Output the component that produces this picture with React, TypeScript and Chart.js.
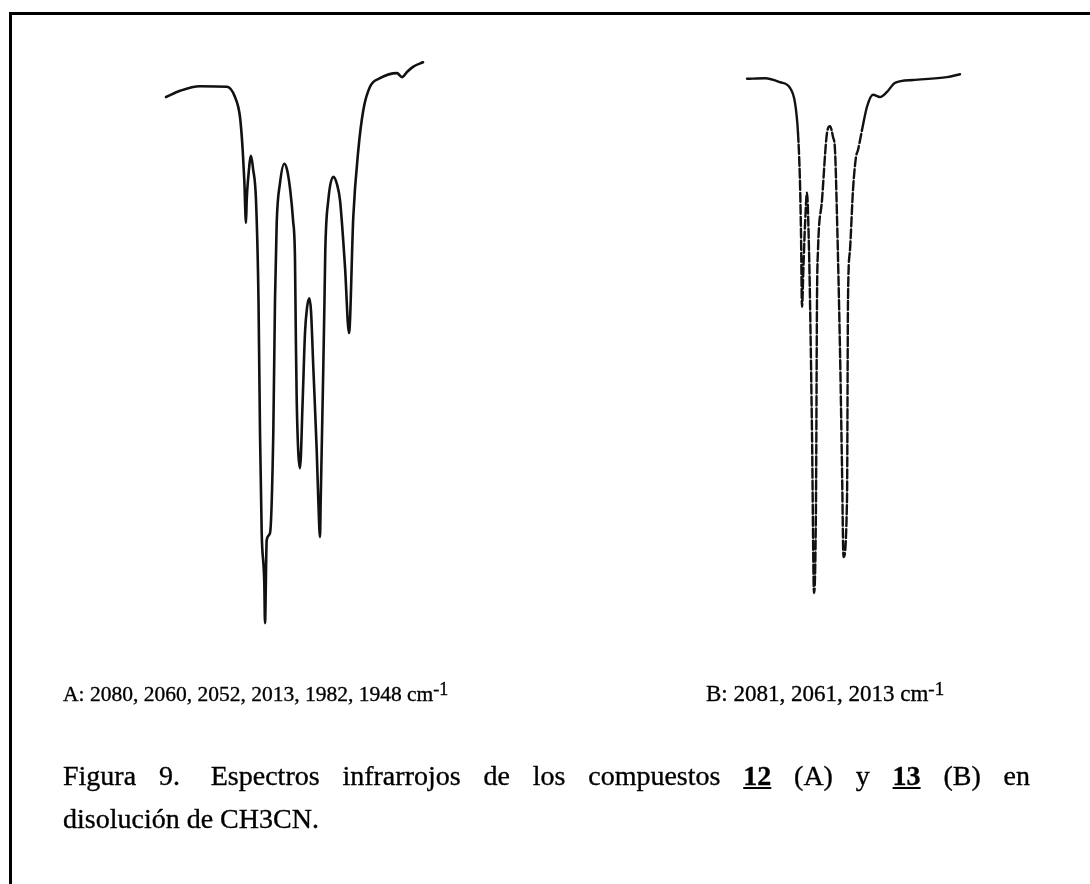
import React, { useEffect, useRef } from "react";
import { Chart, registerables } from "chart.js";

Chart.register(...registerables);

// Spectrum A (compound 12): horizontal position (arbitrary units) and transmittance (%)
const specAPos = [
  166, 180, 200, 227, 235, 240, 242.7, 244.3, 246, 246.7, 248.3, 251, 253, 256,
  258.5, 260, 261.7, 264.3, 265, 266.7, 270, 273.3, 275, 276.7, 280, 284.3, 287,
  290, 293, 295, 295.8, 296.7, 300, 302.7, 305, 307, 309.3, 311, 313.3, 316.7,
  318.3, 320, 320.7, 321.7, 323.3, 324.5, 325.3, 328.3, 333.3, 337, 340, 345, 349,
  353.3, 358.3, 363.3, 370, 380, 397, 402, 407, 413, 423,
];
const specAT = [
  93.5, 94.6, 95.4, 95.3, 93.5, 90.0, 84.2, 78.9, 71.4, 75.4, 79.5, 83.2, 81.0,
  75.4, 57.9, 34.6, 17.0, 8.2, 1.2, 15.8, 17.0, 34.6, 57.9, 71.4, 78.4, 81.8,
  80.8, 77.5, 72.0, 65.0, 52.0, 40.4, 28.4, 40.4, 52.1, 56.5, 58.2, 56.0, 46.1,
  31.6, 22.8, 16.3, 22.8, 31.6, 46.1, 57.9, 66.7, 75.4, 79.5, 78.2, 75.4, 63.7,
  52.1, 72.5, 84.2, 91.2, 95.3, 96.8, 97.7, 97.0, 97.9, 98.8, 99.6,
];

// Spectrum B (compound 13)
const specBPos = [
  747, 765, 780, 790, 795, 798, 800, 801, 802, 803.5, 805, 807, 809, 810, 812,
  814, 816, 817, 818, 822, 827, 830, 833, 835, 837, 840, 842, 843.5, 847, 848,
  850, 853, 856, 858, 862, 867, 873, 880, 887, 895, 913, 947, 960,
];
const specBT = [
  96.7, 96.8, 96.1, 95.1, 92.5, 87.2, 78.4, 69.6, 56.7, 64.0, 71.0, 76.7, 66.7,
  57.9, 34.6, 6.5, 22.8, 57.9, 66.7, 75.4, 87.2, 88.4, 86.5, 84.2, 72.5, 49.1,
  28.6, 12.8, 22.8, 57.9, 66.7, 77.2, 83.0, 84.2, 87.7, 91.8, 93.9, 93.5, 94.4,
  96.0, 96.5, 97.0, 97.5,
];

const bandsA = ["2080", "2060", "2052", "2013", "1982", "1948"];
const bandsB = ["2081", "2061", "2013"];

const serif = "'Liberation Serif', 'Times New Roman', serif";

export default function App() {
  const ref = useRef<HTMLCanvasElement>(null);

  useEffect(() => {
    if (!ref.current) return;
    const chart = new Chart(ref.current, {
      type: "line",
      data: {
        datasets: [
          {
            label: "A",
            data: specAPos.map((x, i) => ({ x, y: specAT[i] })),
            borderColor: "#111",
            borderWidth: 2.6,
            pointRadius: 0,
            cubicInterpolationMode: "monotone",
            fill: false,
          },
          {
            label: "B",
            data: specBPos.map((x, i) => ({ x, y: specBT[i] })),
            borderColor: "#111",
            borderWidth: 2.4,
            pointRadius: 0,
            cubicInterpolationMode: "monotone",
            fill: false,
            segment: {
              borderDash: (ctx: any) =>
                ctx.p0.parsed.y < 90 && ctx.p1.parsed.y < 90 ? [9, 3] : [],
            },
          },
        ],
      },
      options: {
        animation: false,
        responsive: false,
        maintainAspectRatio: false,
        layout: { padding: { top: 60, bottom: 254, left: 0, right: 0 } },
        scales: {
          x: { type: "linear", min: 0, max: 1090, display: false },
          y: { type: "linear", min: 0, max: 100, display: false },
        },
        plugins: { legend: { display: false }, tooltip: { enabled: false } },
        elements: { line: { borderCapStyle: "round", borderJoinStyle: "round" } },
      },
    });
    return () => chart.destroy();
  }, []);

  const textBase: React.CSSProperties = {
    position: "absolute",
    fontFamily: serif,
    color: "#000",
    whiteSpace: "nowrap",
    WebkitTextStroke: "0.35px #000",
  };

  return (
    <div
      style={{
        position: "absolute",
        left: 0,
        top: 0,
        width: 1090,
        height: 884,
        background: "#fff",
        overflow: "hidden",
      }}
    >
      <div
        style={{
          position: "absolute",
          left: 9,
          top: 12,
          width: 1090,
          height: 884,
          borderTop: "3px solid #000",
          borderLeft: "3px solid #000",
          boxSizing: "border-box",
        }}
      />
      <canvas
        ref={ref}
        width={1090}
        height={884}
        style={{ position: "absolute", left: 0, top: 0 }}
      />
      <div style={{ ...textBase, left: 63, top: 678, fontSize: 21.5, lineHeight: "22px" }}>
        A: {bandsA.join(", ")} cm
        <sup style={{ fontSize: 18, verticalAlign: "6px" }}>-1</sup>
      </div>
      <div style={{ ...textBase, left: 706, top: 677, fontSize: 23, lineHeight: "23px" }}>
        B: {bandsB.join(", ")} cm
        <sup style={{ fontSize: 19, verticalAlign: "6px" }}>-1</sup>
      </div>
      <div
        style={{
          ...textBase,
          left: 63,
          top: 762,
          width: 967,
          fontSize: 28,
          lineHeight: "28px",
          whiteSpace: "normal",
          textAlign: "justify",
          textAlignLast: "justify",
        }}
      >
        Figura 9.<span style={{ marginLeft: 8 }}> </span>Espectros infrarrojos de los compuestos{" "}
        <b style={{ textDecoration: "underline" }}>12</b> (A) y{" "}
        <b style={{ textDecoration: "underline" }}>13</b> (B) en
      </div>
      <div style={{ ...textBase, left: 63, top: 805, fontSize: 28, lineHeight: "28px" }}>
        disolución de CH3CN.
      </div>
    </div>
  );
}
